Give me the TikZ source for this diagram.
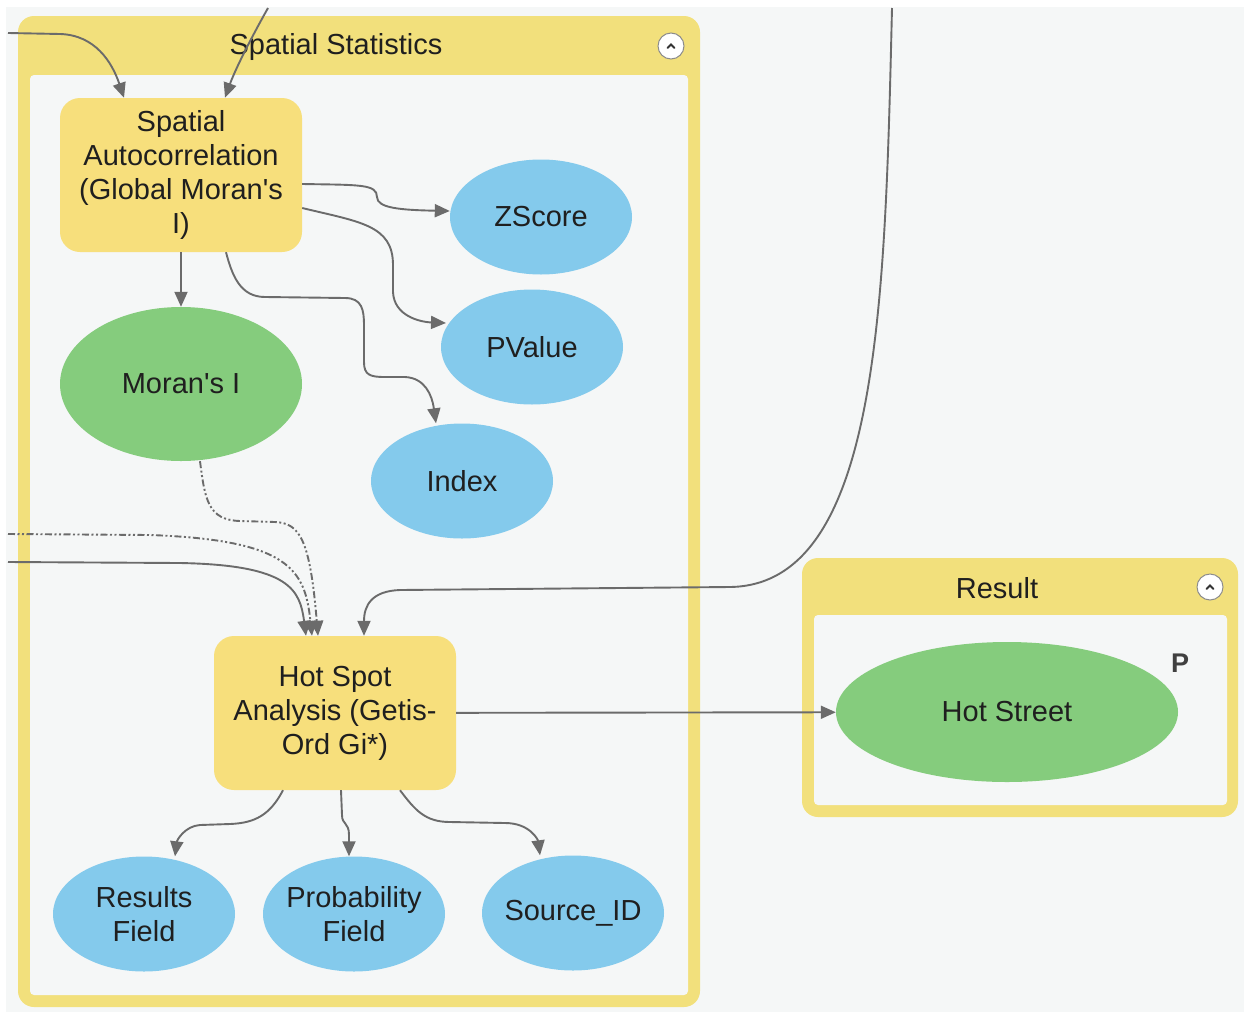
\documentclass[tikz,border=0pt]{standalone}
\usepackage{fontspec}
\setmainfont{Liberation Sans}[Ligatures=TeXOff]
\usepackage{xcolor}
\usepackage{tikz}
\usetikzlibrary{shapes.geometric,arrows.meta}
\definecolor{grpyellow}{HTML}{F2E07C}
\definecolor{toolyellow}{HTML}{F7DF7C}
\definecolor{varblue}{HTML}{84CAEC}
\definecolor{outgreen}{HTML}{85CC7D}
\definecolor{panelgray}{HTML}{F5F7F7}
\definecolor{linkgray}{HTML}{6B6B6B}

\begin{document}
\begin{tikzpicture}[x=1pt, y=-1pt,
        txt/.style={font=\fontsize{29}{34}\selectfont, text=black!88},
        tool/.style={txt, rectangle, rounded corners=20pt, fill=toolyellow, minimum width=242pt, minimum height=154pt, inner sep=2pt, align=center},
        var/.style={txt, ellipse, fill=varblue, minimum width=182pt, minimum height=115pt, inner xsep=-10pt, inner ysep=0pt, align=center},
        outvar/.style={txt, ellipse, fill=outgreen, inner sep=0pt, align=center},
        link/.style={draw=linkgray, line width=1.9pt, -{Triangle[length=15pt,width=13pt]}},
        dashlink/.style={link, dash pattern=on 7pt off 2.5pt on 2pt off 2.5pt on 2pt off 2.5pt},
        grpicon/.style={circle, draw=black!45, line width=1pt, fill=white, minimum size=26pt, inner sep=0pt}]
        \useasboundingbox (0,0) rectangle (1244,1012);
        \fill[white] (0,0) rectangle (1244,1012);
        \fill[panelgray] (6,7) rectangle (1244,1012);

        % groups
        \fill[grpyellow, rounded corners=16pt] (18,16) rectangle (700,1007);
        \fill[panelgray, rounded corners=4pt] (30,75) rectangle (688,995);
        \fill[grpyellow, rounded corners=16pt] (802,558) rectangle (1238,817);
        \fill[panelgray, rounded corners=4pt] (814,615) rectangle (1227,805);
        \node (sstitle) at (336,47) [txt] {Spatial Statistics};
        \node (restitle) at (997,588) [txt] {Result};
        \node (ssicon) at (671,46) [grpicon] {};
        \node (resicon) at (1210,587) [grpicon] {};
        \draw [line width=2pt, line cap=round, black!80] (667.5,48) -- (671,44.5) -- (674.5,48);
        \draw [line width=2pt, line cap=round, black!80] (1206.5,589) -- (1210,585.5) -- (1213.5,589);

        % nodes
        \node (sa) at (181,175) [tool] {Spatial\\Autocorrelation\\(Global Moran's\\I)};
        \node (zs) at (541,217) [var] {ZScore};
        \node (pv) at (532,347) [var] {PValue};
        \node (mi) at (181,384) [outvar, minimum width=242pt, minimum height=154pt] {Moran's I};
        \node (idx) at (462,481) [var] {Index};
        \node (hs) at (335,713) [tool] {Hot Spot\\Analysis (Getis-\\Ord Gi*)};
        \node (rf) at (144,914) [var] {Results\\Field};
        \node (pf) at (354,914) [var] {Probability\\Field};
        \node (sid) at (573,913) [var] {Source\_ID};
        \node (hst) at (1007,712) [outvar, minimum width=342pt, minimum height=140pt] {Hot Street};
        \node (flag) at (1180,663) [font=\bfseries\fontsize{27}{27}\selectfont, text=black!75] {P};

        % free ends
        \coordinate (in1) at (8,33);
        \coordinate (in2) at (268,8);
        \coordinate (in3) at (8,534);
        \coordinate (in4) at (8,562);
        \coordinate (in5) at (892,8);

        % connectors
        \draw [link] (in1) -- (60,34) .. controls (95,35) and (112,62) .. ([xshift=-57pt]sa.north);
        \draw [link] (in2) .. controls (250,40) and (235,70) .. ([xshift=44pt]sa.north);
        \draw [link] ([yshift=-9pt]sa.east) .. controls (360,185) and (377,184) .. (377,197)
            .. controls (377,208) and (400,210) .. ([yshift=6pt]zs.west);
        \draw [link] ([yshift=-33pt]sa.east) .. controls (360,222) and (393,225) .. (393,265) -- (393,292)
            .. controls (394,316) and (420,322) .. (446,323);
        \draw [link] ([xshift=45pt]sa.south) .. controls (232,275) and (240,297) .. (265,297) -- (345,298)
            .. controls (362,298) and (364,310) .. (364,325) -- (364,362)
            .. controls (364,375) and (370,377) .. (385,377) -- (405,377)
            .. controls (425,378) and (432,395) .. ([xshift=-26pt]idx.north);
        \draw [link] (sa) -- (mi);
        \draw [dashlink] ([xshift=19pt]mi.south) .. controls (205,500) and (208,520) .. (240,521) -- (275,522)
            .. controls (300,523) and (310,540) .. ([xshift=-17pt]hs.north);
        \draw [dashlink] (in3) -- (150,535) .. controls (290,540) and (305,570) .. ([xshift=-23pt]hs.north);
        \draw [link] (in4) -- (180,563) .. controls (290,565) and (300,590) .. ([xshift=-29pt]hs.north);
        \draw [link] (in5) .. controls (885,300) and (880,585) .. (730,587) -- (400,590)
            .. controls (372,591) and (364,605) .. ([xshift=29pt]hs.north);
        \draw [link] (hs) -- (hst);
        \draw [link] ([xshift=-52pt]hs.south) .. controls (270,815) and (255,823) .. (230,824) -- (200,825)
            .. controls (185,826) and (177,840) .. ([xshift=31pt]rf.north);
        \draw [link] ([xshift=6pt]hs.south) -- (342,815) .. controls (342,825) and (349,822) .. (349,835)
            -- ([xshift=-5pt]pf.north);
        \draw [link] ([xshift=65pt]hs.south) .. controls (415,810) and (425,822) .. (450,822) -- (505,823)
            .. controls (530,823) and (538,840) .. ([xshift=-33pt]sid.north);
    \end{tikzpicture}
\end{document}
